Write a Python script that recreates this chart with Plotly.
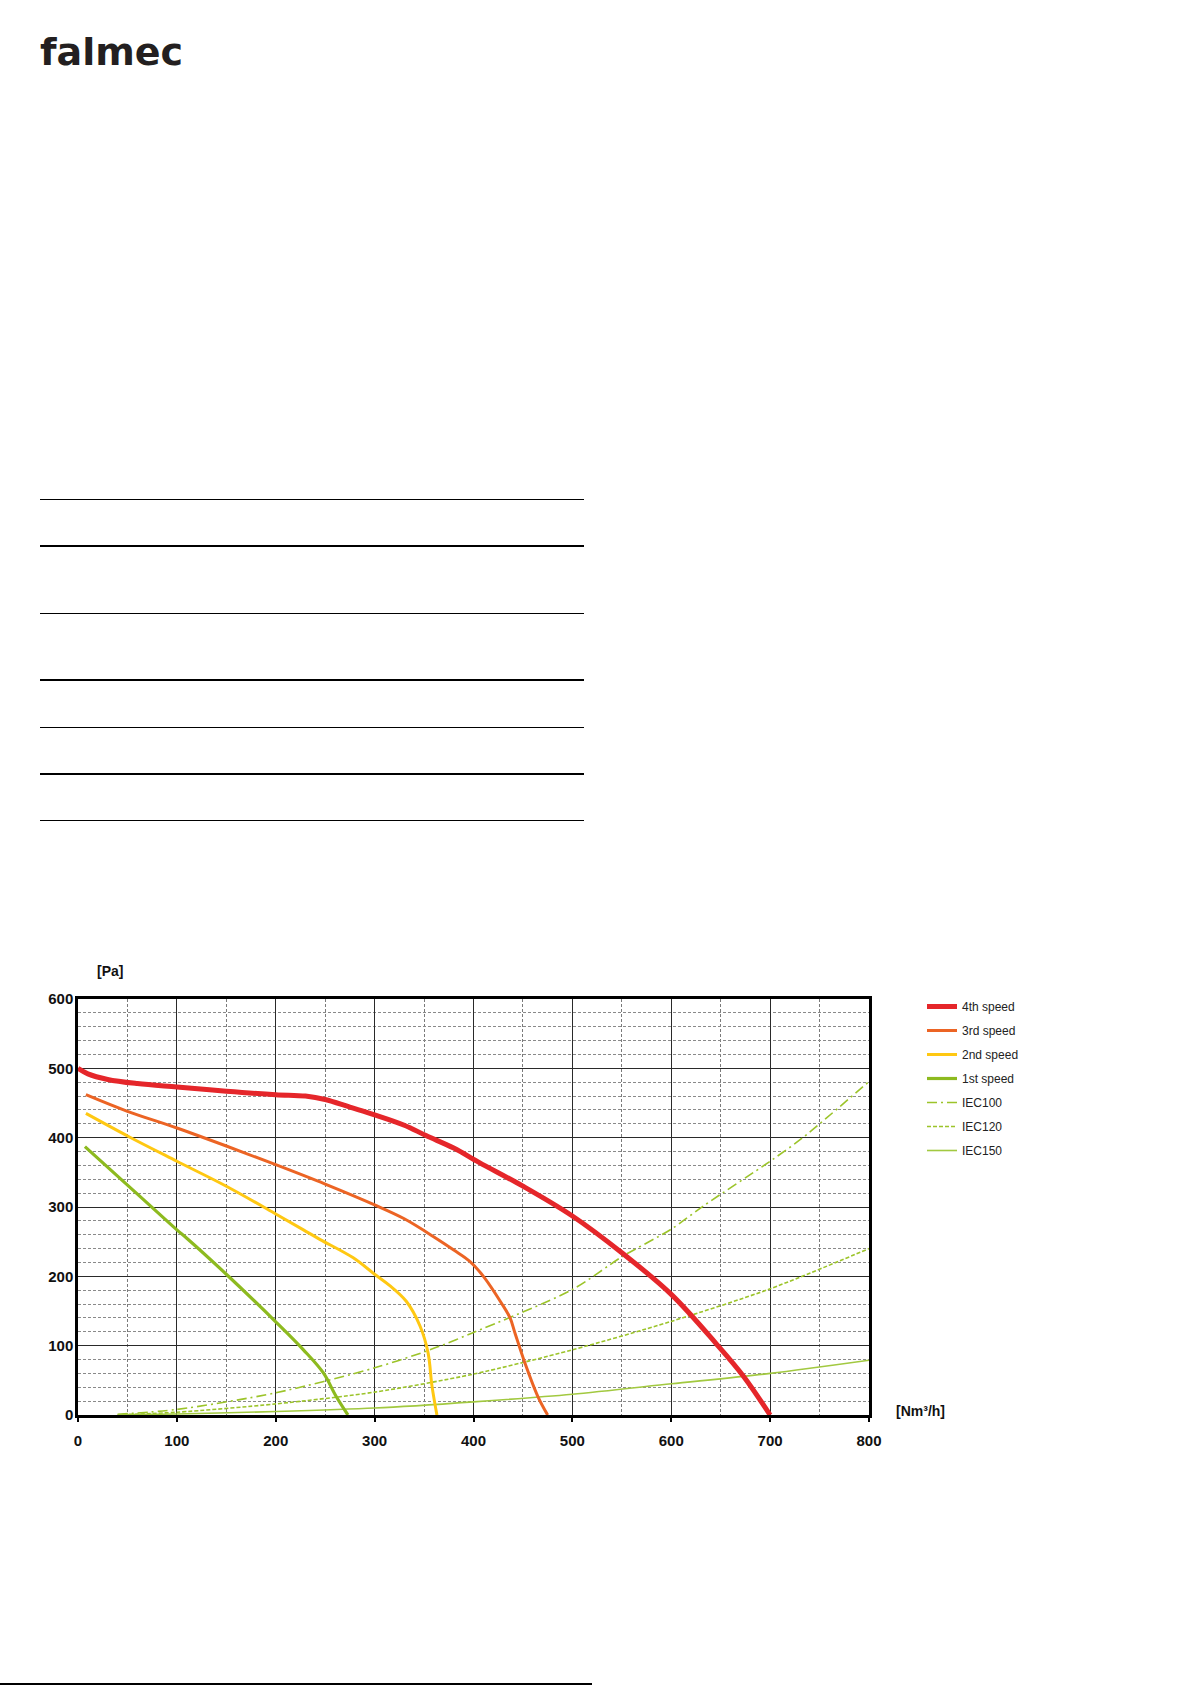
import plotly.graph_objects as go

# ---------------- data ----------------
speed4_q = [0, 10, 30, 60, 100, 150, 200, 230, 250, 275, 300, 330, 352, 380, 406, 450, 500, 550, 600, 646, 673, 700]
speed4_p = [500, 492, 484, 478, 473, 467, 462, 460, 455, 444, 433, 418, 403, 385, 364, 330, 287, 234, 174, 102, 56, 0]

speed3_q = [8, 50, 100, 150, 200, 250, 300, 330, 362, 380, 396, 410, 428, 437, 442, 452, 465, 475]
speed3_p = [462, 438, 414, 388, 361, 333, 303, 283, 255, 238, 222, 200, 162, 140, 118, 75, 27, 0]

speed2_q = [8, 52, 100, 150, 200, 228, 245, 278, 300, 315, 332, 346, 354, 358, 363]
speed2_p = [435, 401, 366, 330, 290, 267, 253, 227, 203, 187, 164, 128, 90, 42, 0]

speed1_q = [7, 59, 100, 110, 150, 201, 228, 248, 261, 273]
speed1_p = [387, 320, 267, 255, 203, 133, 94, 61, 27, 0]

iec100_q = [40, 100, 200, 300, 356, 400, 500, 551, 600, 632, 700, 733, 800]
iec100_p = [1, 8, 32, 68, 94, 119, 181, 229, 268, 301, 366, 400, 481]

iec120_q = [45, 100, 200, 300, 400, 500, 600, 700, 800]
iec120_p = [0.5, 4, 16, 33, 59, 94, 135, 182, 240]

iec150_q = [40, 100, 200, 300, 400, 500, 600, 700, 800]
iec150_p = [0.3, 1.5, 5, 10, 19, 30, 45, 60, 79]

x_ticks = [0, 100, 200, 300, 400, 500, 600, 700, 800]
y_ticks = [0, 100, 200, 300, 400, 500, 600]

# ---------------- layout constants ----------------
W, H = 1191, 1685
ML, MR, MT, MB = 78, 322, 999, 270
PW = W - ML - MR
PH = H - MT - MB


def px_x(x):
    return (x - ML) / PW


def px_y(y):
    return (H - MB - y) / PH


FONT = "Liberation Sans, Arial, sans-serif"

fig = go.Figure()

# system curves first (underneath)
fig.add_trace(go.Scatter(x=iec100_q, y=iec100_p, mode="lines", name="IEC100",
                         line=dict(color="#9cc42a", width=1.6, dash="10px,4px,2px,4px", shape="spline", smoothing=0.8),
                         legendrank=5, legendgroup="g5"))
fig.add_trace(go.Scatter(x=iec120_q, y=iec120_p, mode="lines", name="IEC120",
                         line=dict(color="#9cc42a", width=1.6, dash="4px,2px", shape="spline", smoothing=0.8),
                         legendrank=6, legendgroup="g6"))
fig.add_trace(go.Scatter(x=iec150_q, y=iec150_p, mode="lines", name="IEC150",
                         line=dict(color="#a2c940", width=1.6, shape="spline", smoothing=0.8),
                         legendrank=7, legendgroup="g7"))

fig.add_trace(go.Scatter(x=speed1_q, y=speed1_p, mode="lines", name="1st speed",
                         line=dict(color="#8dba1f", width=3.2, shape="spline", smoothing=1.0),
                         legendrank=4, legendgroup="g4"))
fig.add_trace(go.Scatter(x=speed2_q, y=speed2_p, mode="lines", name="2nd speed",
                         line=dict(color="#ffc812", width=3, shape="spline", smoothing=1.0),
                         legendrank=3, legendgroup="g3"))
fig.add_trace(go.Scatter(x=speed3_q, y=speed3_p, mode="lines", name="3rd speed",
                         line=dict(color="#ec6424", width=3, shape="spline", smoothing=1.0),
                         legendrank=2, legendgroup="g2"))
fig.add_trace(go.Scatter(x=speed4_q, y=speed4_p, mode="lines", name="4th speed",
                         line=dict(color="#e5262a", width=5, shape="spline", smoothing=1.0),
                         legendrank=1, legendgroup="g1"))

axis_common = dict(
    showline=True, linecolor="black", linewidth=2.5, mirror=True,
    showgrid=True, gridcolor="#2a2a2a", gridwidth=1.3,
    zeroline=False,
    tickfont=dict(family=FONT, size=15, color="#111111", weight="bold"),
)

fig.update_xaxes(
    range=[0, 800], tickmode="array", tickvals=x_ticks, ticktext=[str(v) for v in x_ticks],
    ticks="outside", ticklen=4, tickwidth=2, tickcolor="black", ticklabelstandoff=6,
    minor=dict(dtick=50, showgrid=True, gridcolor="#7a7a7a", gridwidth=1, griddash="3px,2px", ticks=""),
    **axis_common,
)
fig.update_yaxes(
    range=[0, 600], tickmode="array", tickvals=y_ticks, ticktext=[str(v) for v in y_ticks],
    ticks="", ticklabelstandoff=-1,
    minor=dict(dtick=20, showgrid=True, gridcolor="#8a8a8a", gridwidth=1, griddash="3px,2px", ticks=""),
    **axis_common,
)

shapes = []
# table rules
for y, w in [(499.5, 1.2), (546, 2.2), (613.5, 1.2), (680, 2.2), (727.5, 1.2), (774, 2.2), (820.5, 1.2)]:
    shapes.append(dict(type="line", xref="paper", yref="paper",
                       x0=px_x(40), x1=px_x(584), y0=px_y(y), y1=px_y(y),
                       line=dict(color="black", width=w)))
# bottom rule
shapes.append(dict(type="line", xref="paper", yref="paper",
                   x0=px_x(0), x1=px_x(592), y0=px_y(1684), y1=px_y(1684),
                   line=dict(color="black", width=2)))

annotations = [
    dict(text="<b>falmec</b>", xref="paper", yref="paper", x=px_x(38), y=px_y(52),
         xanchor="left", yanchor="middle", showarrow=False,
         font=dict(family="DejaVu Sans", size=38, color="#231f20")),
    dict(text="<b>[Pa]</b>", xref="paper", yref="paper", x=px_x(95), y=px_y(971),
         xanchor="left", yanchor="middle", showarrow=False,
         font=dict(family=FONT, size=14, color="#111111")),
    dict(text="<b>[Nm³/h]</b>", xref="paper", yref="paper", x=px_x(894), y=px_y(1411),
         xanchor="left", yanchor="middle", showarrow=False,
         font=dict(family=FONT, size=14, color="#111111")),
]

fig.update_layout(
    width=W, height=H, autosize=False,
    margin=dict(l=ML, r=MR, t=MT, b=MB, pad=0),
    paper_bgcolor="white", plot_bgcolor="white",
    showlegend=True,
    legend=dict(x=px_x(922), y=px_y(992), xanchor="left", yanchor="top",
                font=dict(family=FONT, size=12, color="#222222"),
                tracegroupgap=5, bgcolor="rgba(0,0,0,0)", borderwidth=0,
                traceorder="grouped"),
    shapes=shapes,
    annotations=annotations,
)

fig.write_html("out.html")
